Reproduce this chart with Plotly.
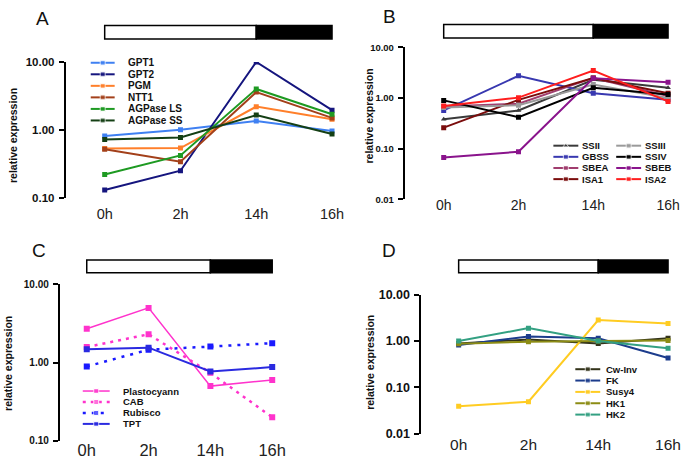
import plotly.graph_objects as go

W, H = 685, 463
times = ["0h", "2h", "14h", "16h"]

# ---------- Panel A ----------
a_names = ["GPT1", "GPT2", "PGM", "NTT1", "AGPase LS", "AGPase SS"]
a_gpt1 = [0.81, 1.00, 1.35, 0.96]
a_gpt2 = [0.13, 0.25, 10.0, 1.95]
a_pgm = [0.53, 0.54, 2.2, 1.43]
a_ntt1 = [0.52, 0.34, 3.6, 1.50]
a_agpls = [0.22, 0.42, 4.0, 1.70]
a_agpss = [0.72, 0.77, 1.65, 0.87]
a_colors = ["#3f80f2", "#15157e", "#ff7f2a", "#a3401a", "#1e9a22", "#143f14"]

# ---------- Panel B ----------
b_names = ["SSII", "GBSS", "SBEA", "ISA1", "SSIII", "SSIV", "SBEB", "ISA2"]
b_ssii = [0.38, 0.57, 2.3, 1.6]
b_gbss = [0.57, 2.75, 1.25, 0.93]
b_sbea = [0.68, 0.77, 2.5, 1.1]
b_isa1 = [0.26, 0.92, 2.5, 1.25]
b_ssiii = [0.65, 0.72, 1.85, 1.0]
b_ssiv = [0.90, 0.42, 1.6, 1.18]
b_sbeb = [0.067, 0.087, 2.45, 2.05]
b_isa2 = [0.70, 1.02, 3.5, 0.86]
b_colors = ["#3a3a3a", "#3838b0", "#a03d6e", "#7a0c0c", "#9a9a9a", "#000000", "#8a148c", "#ff1e1e"]

# ---------- Panel C ----------
c_names = ["Plastocyann", "CAB", "Rubisco", "TPT"]
c_plasto = [2.7, 5.0, 0.50, 0.60]
c_cab = [1.58, 2.3, 0.74, 0.20]
c_rubisco = [0.89, 1.46, 1.60, 1.77]
c_tpt = [1.48, 1.55, 0.77, 0.875]
c_colors = ["#ff33cc", "#ff33cc", "#1a1aff", "#2a2ae0"]
c_dash = ["solid", "3px,5px", "3px,6px", "solid"]

# ---------- Panel D ----------
d_names = ["Cw-Inv", "FK", "Susy4", "HK1", "HK2"]
d_cwinv = [0.88, 1.08, 0.88, 1.15]
d_fk = [0.82, 1.25, 1.15, 0.43]
d_susy4 = [0.039, 0.049, 2.85, 2.4]
d_hk1 = [0.87, 0.97, 1.00, 1.03]
d_hk2 = [1.00, 1.90, 1.00, 0.70]
d_colors = ["#33331a", "#1c3c8c", "#ffcc22", "#8c8c14", "#33a082"]

ytick_vals = [0.01, 0.1, 1, 10]
ytick_text = ["0.01", "0.10", "1.00", "10.00"]

FONT = "Liberation Sans, Arial, sans-serif"


def px(x):
    return x / W


def py(y):
    return 1 - y / H


# panel geometry in page pixels
panels = {
    "A": dict(xl=65, p0=105, p3=333, yt=56.7, yb=196.7, lr=[-1, 1], xly=212, bar=(19, 33),
              lab=(43, 12), tit=(13, 132), yfs=11.5, xfs=14.5),
    "B": dict(xl=405, p0=445, p3=670, yt=41.7, yb=198.3, lr=[-2, 1], xly=203, bar=(18, 32),
              lab=(391, 10), tit=(370, 112), yfs=9.5, xfs=14),
    "C": dict(xl=59, p0=87, p3=273, yt=286, yb=447.3, lr=[-1, 1], xly=455, bar=(261, 274),
              lab=(39, 251), tit=(8, 367), yfs=10, xfs=16.5),
    "D": dict(xl=421.7, p0=460, p3=670, yt=296.7, yb=440, lr=[-2, 1], xly=449, bar=(261, 274),
              lab=(390, 251), tit=(371, 366), yfs=12.5, xfs=15.5),
}

fig = go.Figure()
layout = dict(width=W, height=H, margin=dict(l=0, r=0, t=0, b=0),
              paper_bgcolor="white", plot_bgcolor="rgba(0,0,0,0)",
              showlegend=False, font=dict(family=FONT, color="#111"))
shapes = []
annotations = []

for i, (key, g) in enumerate(panels.items(), start=1):
    xa = "xaxis" if i == 1 else f"xaxis{i}"
    ya = "yaxis" if i == 1 else f"yaxis{i}"
    u = (g["p3"] - g["p0"]) / 3
    xr = g["p3"] + 12
    layout[xa] = dict(
        domain=[px(g["xl"]), px(xr)],
        range=[-(g["p0"] - g["xl"]) / u, 3 + (xr - g["p3"]) / u],
        tickmode="array", tickvals=[0, 1, 2, 3], ticktext=times,
        showline=False, showgrid=False, zeroline=False, ticks="",
        anchor="free", position=py(g["xly"] - g["xfs"] * 0.62),
        tickfont=dict(family=FONT, size=g["xfs"], color="#222"),
    )
    layout[ya] = dict(
        domain=[py(g["yb"]), py(g["yt"])],
        type="log", range=g["lr"],
        tickmode="array", tickvals=ytick_vals, ticktext=ytick_text,
        showline=True, linecolor="black", linewidth=2,
        ticks="outside", ticklen=5, tickwidth=2, tickcolor="black",
        ticklabelstandoff=2,
        showgrid=False, zeroline=False,
        anchor="free", position=px(g["xl"]),
        tickfont=dict(family=FONT, size=g["yfs"], color="#111", weight="bold"),
    )
    xr_ref = "x" if i == 1 else f"x{i}"
    # day/night bar
    shapes.append(dict(type="rect", xref=xr_ref, yref="paper", x0=0, x1=2,
                       y0=py(g["bar"][1]), y1=py(g["bar"][0]),
                       fillcolor="white", line=dict(color="black", width=1.5)))
    shapes.append(dict(type="rect", xref=xr_ref, yref="paper", x0=2, x1=3,
                       y0=py(g["bar"][1]), y1=py(g["bar"][0]),
                       fillcolor="black", line=dict(color="black", width=1.5)))
    annotations.append(dict(text=key, x=px(g["lab"][0]), y=py(g["lab"][1]), xref="paper",
                            yref="paper", showarrow=False, xanchor="center", yanchor="middle",
                            font=dict(family=FONT, size=19, color="#111")))
    annotations.append(dict(text="relative expression", x=px(g["tit"][0]), y=py(g["tit"][1]),
                            xref="paper", yref="paper", showarrow=False, textangle=-90,
                            xanchor="center", yanchor="middle",
                            font=dict(family=FONT, size=10.5, color="#111", weight="bold")))


def add_series(axis_i, name, vals, color, symbol="square", dash="solid", width=2, msize=5):
    xs = "x" if axis_i == 1 else f"x{axis_i}"
    ys = "y" if axis_i == 1 else f"y{axis_i}"
    fig.add_trace(go.Scatter(x=[0, 1, 2, 3], y=vals, name=name, mode="lines+markers",
                             xaxis=xs, yaxis=ys,
                             line=dict(color=color, width=width, dash=dash),
                             marker=dict(symbol=symbol, size=msize, color=color)))


a_vals = [a_gpt1, a_gpt2, a_pgm, a_ntt1, a_agpls, a_agpss]
for n, v, c in zip(a_names, a_vals, a_colors):
    add_series(1, n, v, c)

b_vals = [b_ssii, b_gbss, b_sbea, b_isa1, b_ssiii, b_ssiv, b_sbeb, b_isa2]
b_sym = ["triangle-up", "square", "square", "square", "square", "square", "square", "square"]
for n, v, c, s in zip(b_names, b_vals, b_colors, b_sym):
    add_series(2, n, v, c, symbol=s)

c_vals = [c_plasto, c_cab, c_rubisco, c_tpt]
c_width = [1.5, 2.5, 2.5, 2]
for n, v, c, d, w in zip(c_names, c_vals, c_colors, c_dash, c_width):
    add_series(3, n, v, c, dash=d, width=w, msize=6)

d_vals = [d_cwinv, d_fk, d_susy4, d_hk1, d_hk2]
for n, v, c in zip(d_names, d_vals, d_colors):
    add_series(4, n, v, c)

# ---------- legend keys on a full-page pixel overlay axis ----------
layout["xaxis5"] = dict(domain=[0, 1], range=[0, W], visible=False, anchor="y5")
layout["yaxis5"] = dict(domain=[0, 1], range=[H, 0], visible=False, anchor="x5")


def legend_block(names, colors, x0, x1, tx, y0, dy, fs=9.5, symbols=None, dashes=None, widths=None):
    for k, (n, c) in enumerate(zip(names, colors)):
        y = y0 + k * dy
        sym = symbols[k] if symbols else "square"
        dsh = dashes[k] if dashes else "solid"
        wd = widths[k] if widths else 2
        fig.add_trace(go.Scatter(x=[x0, (x0 + x1) / 2, x1], y=[y, y, y], mode="lines+markers",
                                 xaxis="x5", yaxis="y5", hoverinfo="skip",
                                 line=dict(color=c, width=wd, dash=dsh),
                                 marker=dict(symbol=sym, size=[0, 5, 0], color=c)))
        annotations.append(dict(text=n, x=px(tx), y=py(y), xref="paper", yref="paper",
                                showarrow=False, xanchor="left", yanchor="middle",
                                font=dict(family=FONT, size=fs, color="#111", weight="bold")))


legend_block(a_names, a_colors, 91, 115, 126, 57.5, 11.9, fs=10)
legend_block(b_names[:4], b_colors[:4], 555, 580, 582, 143, 11.5, fs=9.5, symbols=b_sym[:4])
legend_block(b_names[4:], b_colors[4:], 618, 643, 645, 143, 11.5, fs=9.5, symbols=b_sym[4:])
legend_block(c_names, c_colors, 83, 110, 121, 396, 11.3, fs=9.5, dashes=c_dash, widths=c_width)
legend_block(d_names, d_colors, 577, 602, 606, 373.5, 11.7, fs=9.5)

layout["shapes"] = shapes
layout["annotations"] = annotations
fig.update_layout(**layout)
fig.write_html("out.html", config={"displayModeBar": False},
               post_script="document.body.style.margin='0';document.body.style.padding='0';")
